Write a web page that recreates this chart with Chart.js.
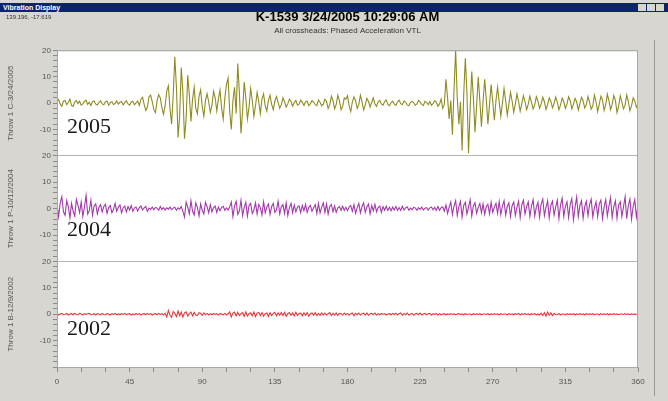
<!DOCTYPE html>
<html>
<head>
<meta charset="utf-8">
<script src="https://cdn.jsdelivr.net/npm/chart.js@4.4.1/dist/chart.umd.min.js"></script>
<style>
  html, body { margin: 0; padding: 0; background: #d8d6d1; }
  #wrap { position: relative; width: 668px; height: 401px; overflow: hidden; }
  #bar { position: absolute; left: 0; top: 3px; width: 668px; height: 9px; background: #0c2372;
         color: #fff; font: bold 7px "Liberation Sans", Arial, sans-serif; line-height: 9px; padding-left: 3px; box-sizing: border-box; }
  #bar .btn { position: absolute; top: 1px; width: 8px; height: 7px; background: #d8d6d1; }
  #coords { position: absolute; left: 6px; top: 14px; font: 6px "Liberation Sans", Arial, sans-serif; color: #333; }
  #frame { position: absolute; left: 654px; top: 40px; width: 1px; height: 356px; background: #9a9894; }
  canvas { position: absolute; left: 0; top: 0; }
</style>
</head>
<body>
<div id="wrap">
  <canvas id="vib" width="668" height="401"></canvas>
  <div id="bar">Vibration Display
    <span class="btn" style="left:638px"></span><span class="btn" style="left:647px"></span><span class="btn" style="left:656px"></span>
  </div>
  <div id="coords">139.196, -17.619</div>
  <div id="frame"></div>
</div>
<script>
// sample spacing along the crank angle axis (degrees)
const STEP = 1;
const xTicks = [0, 45, 90, 135, 180, 225, 270, 315, 360];
const panelTitles = ['Throw 1 C-3/24/2005', 'Throw 1 P-10/12/2004', 'Throw 1 B-12/9/2002'];
const years = ['2005', '2004', '2002'];

// phased acceleration, one value per degree (0..360)
const accel2005 = [
  0.6, 1.3, -0.4, -1.2, 0.8, 1.0, -0.6, 0.2, 1.5, -0.9,
  -1.3, 0.4, 0.9, -0.2, 0.7, -0.8, -0.3, 0.6, 1.1, -0.5,
  0.3, -0.9, 0.5, 0.8, -0.4, -0.7, 0.2, 0.9, -0.3, -0.6,
  0.5, 0.7, -0.8, 0.1, 0.6, -0.5, -0.2, 0.8, -0.4, 0.3,
  0.6, -0.7, 0.2, 0.9, -0.3, -0.8, 0.4, 0.7, -0.6, 0.1,
  0.8, -0.9, 1.4, 2.2, -0.5, -2.8, -1.5, 2.4, 3.0, 0.6,
  -2.5, -3.6, 0.8, 3.2, 2.0, -1.8, -4.2, -1.0, 4.5, 6.5,
  -2.0, -8.0, 3.0, 17.5, 6.0, -13.0, -5.0, 13.5, 4.0, -13.5,
  -6.0, 10.5, 3.0, -7.0, 1.5, 6.0, -2.0, -4.0, 2.5, 5.0,
  -1.5, -5.0, 1.0, 3.5, 0.5, -3.5, -1.0, 4.5, 2.0, -3.0,
  1.5, 5.0, -2.0, -6.0, 2.0, 7.0, 9.5, -3.0, -10.0, 1.0,
  6.0, -4.0, 15.0, 4.0, -11.5, -3.0, 8.0, 2.0, -6.0, -1.5,
  5.5, 1.0, -5.0, -1.0, 4.0, 0.5, -4.0, 1.5, 3.5, -1.0,
  -3.0, 1.0, 3.0, -0.5, -2.5, 0.8, 2.5, 0.3, -2.0, -0.6,
  2.0, 0.4, -1.5, -0.3, 1.5, 0.6, -1.2, 0.2, 1.0, -0.8,
  -0.4, 1.1, 0.3, -0.9, 0.5, 0.7, -1.0, -0.2, 0.9, 0.4,
  -0.6, -1.0, 1.2, 0.3, -1.0, -0.4, 1.5, 0.6, -2.0, -0.8,
  2.6, 1.0, -2.2, -0.5, 3.0, 0.8, -2.5, -1.2, 2.0, 1.4,
  2.8, -1.0, -3.2, 0.4, 2.4, 1.0, -2.0, -0.6, 3.0, 0.5,
  -2.6, -0.8, 1.8, 0.6, -1.5, 0.3, 2.0, -0.4, -1.2, 0.5,
  1.0, -0.3, -0.8, 0.6, 1.2, -0.5, -1.0, 0.2, 0.7, -0.4,
  -0.9, 0.5, 1.1, -0.2, -0.6, 0.8, 0.4, -0.7, -1.0, 0.3,
  0.6, 0.2, -0.8, -0.3, 1.0, 0.4, -0.5, -0.9, 0.7, 0.3,
  -0.6, 0.6, -0.8, -0.2, 0.9, 0.5, -1.2, -0.4, 1.5, -2.0,
  -0.5, 9.0, 2.0, -6.0, 1.0, -12.0, 5.0, 20.0, 2.0, -8.0,
  0.5, -18.0, 3.0, 17.0, 4.0, -19.0, -2.0, 12.0, 2.0, -11.0,
  -1.0, 10.0, 1.0, -9.0, 0.5, 9.0, 1.5, -8.0, -0.5, 7.0,
  0.5, -6.5, 1.0, 6.0, 0.5, -5.0, 0.0, 5.5, 1.0, -4.5,
  -0.5, 4.0, 0.8, -3.5, -0.3, 3.5, 0.6, -3.0, -0.2, 2.8,
  0.5, -2.5, -0.4, 2.6, 0.3, -2.2, -0.6, 2.4, 0.8, -2.0,
  -0.3, 2.2, 0.5, -2.4, -0.6, 2.0, 0.7, -1.8, -0.2, 2.3,
  0.4, -2.5, -0.8, 1.9, 0.6, -2.0, -0.4, 2.4, 1.0, -2.2,
  -0.5, 1.8, 0.4, -2.6, -0.2, 2.2, 0.9, -1.9, -0.6, 2.5,
  0.3, -2.3, -1.0, 3.0, 0.5, -3.2, -0.4, 2.6, 1.2, -2.8,
  -0.6, 3.4, 0.8, -2.5, -0.5, 2.9, 1.0, -3.6, -1.2, 2.7,
  0.4, -2.2, -0.8, 3.1, 0.6, -2.9, -1.0, 2.0, 0.8, -1.6,
  -0.5
];
const accel2004 = [
  1.5, -3.0, 2.2, 4.5, -1.2, -2.5, 3.0, 0.8, -3.5, 2.0,
  -1.0, -2.8, 3.5, 1.2, -1.5, 2.5, -3.0, 0.6, 5.0, -2.0,
  -0.8, 3.2, -2.5, 1.0, 1.8, -2.0, 0.5, 1.5, -1.2, 0.8,
  1.6, -1.8, 0.4, 1.2, -1.5, -0.3, 2.0, -1.0, 0.6, 1.4,
  -1.6, 0.3, 1.0, -1.2, 0.8, -0.5, 1.2, -1.0, 0.2, 0.6,
  -0.9, 0.4, 1.0, -0.5, 0.3, 0.8, -1.0, 0.2, -0.3, 0.6,
  -0.4, 0.5, 0.2, -0.6, 0.8, -0.3, 0.4, -0.5, 0.3, -0.2,
  0.6, -0.4, 0.2, 0.5, -0.6, 0.3, -0.2, 0.8, -1.0, -3.2,
  2.5, 0.6, -2.0, 3.0, -1.0, -2.4, 2.2, 0.5, -2.8, 1.8,
  -0.6, -2.0, 2.4, 0.8, -1.6, 1.5, -1.2, 0.4, 1.0, -1.4,
  0.6, -0.8, 0.5, 0.9, -0.6, 0.3, -0.5, 0.7, 2.5, -3.0,
  1.0, 2.8, -2.2, -0.8, 3.2, -2.6, 0.5, 2.4, -2.8, 1.2,
  2.0, -1.8, -0.6, 2.2, -2.0, 1.6, 0.4, -2.4, 2.6, -1.5,
  0.6, 1.8, -2.2, 0.8, 2.0, -1.4, -0.5, 2.8, -2.0, 0.7,
  1.5, -1.8, 2.2, -2.6, 0.4, 2.0, -1.6, 1.4, -1.2, 0.6,
  1.0, -1.5, 1.2, -0.8, 1.6, -1.4, 0.5, 1.2, -1.0, 0.3,
  1.5, -1.8, 2.0, -1.6, 0.6, 2.2, -1.4, 1.8, -2.0, 0.8,
  1.6, -1.2, 1.0, -1.4, 0.3, 0.8, -0.6, 0.9, -0.7, 0.5,
  -0.8, 0.6, 1.2, -1.0, 1.5, -1.8, 0.4, 2.0, -1.6, 0.8,
  2.2, -1.4, 0.6, 1.8, -2.0, 1.2, -0.8, 1.6, -1.2, 0.4,
  1.0, -1.4, 0.8, -0.6, 0.9, -0.7, 0.5, -0.8, 0.6, -0.5,
  0.8, -0.6, 0.4, -0.7, 0.9, -0.5, 0.3, 0.7, -0.6, 0.2,
  -0.4, 0.5, 0.3, -0.6, 0.4, -0.3, 0.6, -0.5, 0.2, 0.4,
  -0.5, 0.3, 0.6, -0.4, 0.5, -0.7, 0.8, -0.6, 0.4, 0.7,
  -1.0, 1.4, -1.8, 0.6, 2.5, -2.2, 1.0, 3.0, -2.6, 0.8,
  2.8, -3.2, 1.2, 2.4, -2.0, 0.6, 3.4, -2.8, 1.0, 2.2,
  -1.8, 0.5, 2.0, -1.6, 1.8, -2.2, 0.8, 1.6, -2.0, 2.4,
  -1.4, 0.6, 2.0, -1.8, 2.6, -2.2, 1.0, 3.0, -2.4, 0.8,
  2.2, -3.0, 1.2, 2.5, -2.6, 0.6, 2.8, -3.4, 1.4, 3.2,
  -2.0, 0.8, 2.6, -3.0, 1.0, 3.4, -2.8, 0.6, 2.4, -3.2,
  1.8, 3.6, -2.6, 0.4, 3.0, -3.5, 1.2, 2.8, -2.4, 0.6,
  3.2, -3.8, 1.4, 4.0, -3.0, 0.8, 2.6, -3.4, 1.6, 3.8,
  -4.2, 0.6, 4.4, -3.0, 1.2, 3.0, -3.6, 0.8, 2.8, -2.6,
  1.5, 3.6, -3.2, 0.4, 2.6, -3.0, 1.8, 3.2, -3.8, 0.6,
  3.4, -2.8, 1.0, 4.2, -3.4, 0.8, 3.0, -3.6, 1.4, 2.6,
  -3.0, 0.6, 4.5, -3.8, 1.2, 3.6, -4.0, 0.8, 3.4, -3.2,
  1.0
];
const accel2002 = [
  0.2, -0.3, 0.1, 0.3, -0.2, -0.1, 0.3, -0.3, 0.1, 0.2,
  -0.2, 0.3, -0.1, -0.2, 0.3, 0.1, -0.3, 0.2, -0.1, 0.2,
  0.3, -0.2, -0.1, 0.2, -0.3, 0.2, 0.1, -0.2, 0.3, -0.1,
  -0.2, 0.2, 0.1, -0.3, 0.2, -0.1, 0.3, -0.2, 0.1, -0.2,
  0.2, -0.1, 0.3, -0.2, 0.1, 0.2, -0.3, 0.1, -0.2, 0.3,
  -0.1, 0.2, -0.3, 0.1, 0.2, -0.2, 0.3, -0.1, 0.2, -0.3,
  0.1, 0.2, -0.2, 0.3, -0.1, 0.2, -0.3, 0.4, -1.0, 1.4,
  -0.4, -1.2, 1.0, 0.3, -0.9, 1.2, -0.6, 0.8, -1.1, 0.5,
  0.9, -0.7, 0.2, 0.8, -0.6, 0.7, -0.3, -0.5, 0.6, 0.3,
  -0.4, 0.5, -0.2, 0.3, -0.3, 0.2, -0.2, 0.3, -0.1, 0.2,
  -0.3, 0.2, 0.1, -0.2, 0.3, -0.2, 0.1, 0.9, -1.0, 0.4,
  0.8, -0.6, 0.7, -0.5, 0.2, 0.6, -0.8, 0.9, -0.7, 0.3,
  0.5, -0.6, 0.8, -0.9, 0.4, 0.7, -0.5, 0.6, -0.7, 0.2,
  0.5, -0.8, 0.6, -0.5, 0.3, 0.7, -0.6, 0.5, -0.4, 0.6,
  -0.5, 0.7, -0.8, 0.2, 0.6, -0.4, 0.5, -0.6, 0.7, -0.5,
  0.3, 0.4, -0.6, 0.5, -0.4, 0.6, -0.7, 0.2, 0.5, -0.4,
  0.6, -0.5, 0.3, -0.4, 0.5, -0.3, 0.4, -0.3, 0.2, 0.6,
  -0.5, 0.4, -0.3, 0.5, -0.4, 0.3, 0.2, -0.3, 0.4, -0.2,
  0.3, -0.4, 0.2, 0.5, -0.6, 0.3, -0.2, 0.4, -0.3, 0.2,
  0.4, -0.3, 0.5, -0.4, 0.2, 0.3, -0.2, 0.4, -0.3, 0.2,
  -0.2, 0.3, -0.1, 0.2, -0.3, 0.1, 0.2, -0.2, 0.3, -0.1,
  0.4, -0.3, 0.2, 0.5, -0.4, 0.3, -0.2, 0.4, -0.3, 0.1,
  0.3, -0.4, 0.2, 0.3, -0.2, 0.4, -0.3, 0.1, 0.3, -0.2,
  0.2, 0.3, -0.4, 0.2, -0.1, 0.3, -0.3, 0.2, -0.2, 0.1,
  0.2, -0.2, 0.1, -0.1, 0.2, -0.1, 0.1, -0.2, 0.1, 0.2,
  -0.1, 0.1, -0.2, 0.2, -0.1, 0.1, 0.1, -0.2, 0.2, -0.1,
  0.1, -0.1, 0.2, -0.2, 0.1, 0.1, -0.1, 0.2, -0.2, 0.1,
  -0.1, 0.2, -0.1, 0.1, -0.2, 0.2, -0.1, 0.1, 0.1, -0.2,
  0.2, -0.1, 0.1, -0.2, 0.2, -0.1, 0.3, -0.3, 0.2, -0.1,
  0.2, -0.1, 0.1, -0.2, 0.2, -0.1, 0.2, -0.2, 0.1, -0.3,
  0.4, -0.5, 0.6, -0.7, 0.8, -0.4, 0.5, -0.6, 0.3, -0.2,
  -0.1, 0.2, -0.2, 0.1, 0.1, -0.2, 0.2, -0.1, 0.1, -0.1,
  0.2, -0.2, 0.1, -0.1, 0.2, -0.1, 0.1, -0.2, 0.2, -0.1,
  0.1, -0.1, 0.2, -0.2, 0.1, 0.1, -0.2, 0.2, -0.1, 0.1,
  -0.1, 0.2, -0.2, 0.1, -0.1, 0.2, -0.1, 0.1, -0.2, 0.1,
  0.1, -0.1, 0.2, -0.1, 0.1, -0.2, 0.1, -0.1, 0.1, -0.1,
  0.0
];

const toPoints = arr => arr.map((v, i) => ({ x: i * STEP, y: v }));

// white plot background, outer frame and big year captions
const panelPlugin = {
  id: 'panels',
  beforeDraw(chart) {
    const { ctx, chartArea: a } = chart;
    ctx.save();
    ctx.fillStyle = '#fff';
    ctx.fillRect(a.left, a.top, a.width, a.height);
    ctx.restore();
  },
  afterDraw(chart) {
    const { ctx, chartArea: a, scales } = chart;
    ctx.save();
    ctx.strokeStyle = '#a8a8a8';
    ctx.lineWidth = 1;
    ctx.strokeRect(a.left + 0.5, a.top + 0.5, a.width - 1, a.height);
    ctx.fillStyle = '#1a1a1a';
    ctx.font = '22px "Liberation Serif", "Times New Roman", serif';
    const base = [-11.5, -10.5, -8];
    ['yA', 'yB', 'yC'].forEach((id, i) => {
      ctx.fillText(years[i], a.left + 10, scales[id].getPixelForValue(base[i]));
    });
    ctx.restore();
  }
};

function panelAxis(title, weight) {
  return {
    type: 'linear',
    position: 'left',
    stack: 'panels',
    stackWeight: 1,
    weight: weight,
    min: -20,
    max: 20,
    ticks: {
      stepSize: 2,
      autoSkip: false,
      padding: 2,
      color: '#555',
      font: { size: 8, family: 'Liberation Sans' },
      callback: v => (v % 10 === 0 && v !== -20) ? v : ''
    },
    grid: {
      color: c => (c.tick && c.tick.value === 20) ? '#b4b4b4' : 'transparent',
      tickColor: '#8a8a8a',
      tickLength: 4
    },
    border: { color: '#a8a8a8' },
    title: { display: true, text: title, color: '#555', padding: 2, font: { size: 8, family: 'Liberation Sans' } },
    afterFit: s => { s.width = 53; }
  };
}

const lineStyle = { borderWidth: 1.1, pointRadius: 0, tension: 0, fill: false };

new Chart(document.getElementById('vib'), {
  type: 'line',
  data: {
    datasets: [
      { ...lineStyle, label: years[0], data: toPoints(accel2005), borderColor: '#8f8c1f', yAxisID: 'yA' },
      { ...lineStyle, label: years[1], data: toPoints(accel2004), borderColor: '#a23aa8', yAxisID: 'yB' },
      { ...lineStyle, label: years[2], data: toPoints(accel2002), borderColor: '#e2383c', yAxisID: 'yC' }
    ]
  },
  options: {
    responsive: false,
    animation: false,
    layout: { padding: { left: 4, right: 30, top: 10, bottom: 10 } },
    plugins: {
      legend: { display: false },
      tooltip: { enabled: false },
      title: {
        display: true,
        fullSize: false,
        text: 'K-1539 3/24/2005 10:29:06 AM',
        color: '#000',
        padding: { top: 0, bottom: 0 },
        font: { size: 13, weight: 'bold', family: 'Liberation Sans', lineHeight: 1.1 }
      },
      subtitle: {
        display: true,
        fullSize: false,
        text: 'All crossheads: Phased Acceleration VTL',
        color: '#333',
        padding: { top: 2, bottom: 16 },
        font: { size: 8, family: 'Liberation Sans', lineHeight: 1 }
      }
    },
    scales: {
      x: {
        type: 'linear',
        min: 0,
        max: 360,
        ticks: {
          stepSize: 15,
          autoSkip: false,
          maxRotation: 0,
          padding: 5,
          color: '#555',
          font: { size: 8, family: 'Liberation Sans' },
          callback: v => xTicks.includes(v) ? v : ''
        },
        grid: { color: 'transparent', tickColor: '#8a8a8a', tickLength: 5 },
        border: { color: '#a8a8a8' },
        afterFit: s => { s.height = 24; }
      },
      yC: panelAxis(panelTitles[2], 1),
      yB: panelAxis(panelTitles[1], 2),
      yA: panelAxis(panelTitles[0], 3)
    }
  },
  plugins: [panelPlugin]
});
</script>
</body>
</html>
